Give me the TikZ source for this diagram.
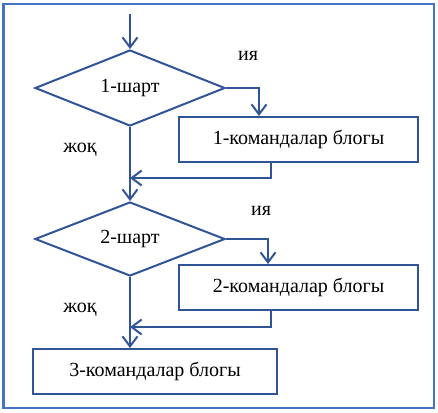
\documentclass[tikz,border=0pt]{standalone}
\usepackage{fontspec}
\setmainfont{Liberation Serif}
\usetikzlibrary{shapes.geometric,arrows.meta}
\definecolor{frameblue}{HTML}{4472C4}
\definecolor{lineblue}{HTML}{2F5597}
\tikzset{
  flow/.style={draw=lineblue,line width=2pt},
  blockbox/.style={flow,rectangle,minimum height=45pt,inner sep=0pt,font=\fontsize{20}{24}\selectfont},
  cond/.style={flow,diamond,minimum width=190pt,minimum height=76pt,aspect=2.5,inner sep=0pt,font=\fontsize{20}{24}\selectfont},
  arr/.style={flow,-{Straight Barb[length=10pt,width=15pt,line width=2pt]}},
  lab/.style={font=\fontsize{20}{24}\selectfont}
}
\begin{document}
\begin{tikzpicture}[x=1pt,y=-1pt]
\useasboundingbox (0,0) rectangle (438,412);
\draw[frameblue,line width=2.8pt] (3.5,4) rectangle (434,408);
\node[cond,minimum width=190pt,minimum height=76pt] (d1) at (130,88) {1-шарт};
\node[blockbox,minimum width=239pt] (b1) at (298.5,139.5) {1-командалар блогы};
\node[cond,minimum width=190pt,minimum height=74pt] (d2) at (130,239) {2-шарт};
\node[blockbox,minimum width=239pt] (b2) at (298.5,287.5) {2-командалар блогы};
\node[blockbox,minimum width=244pt] (b3) at (155,371.5) {3-командалар блогы};
\coordinate (start) at (130,14);
\coordinate (j1) at (130,178);
\coordinate (j2) at (130,327);
\node[lab] at (248,56) {ия};
\node[lab] at (261,211) {ия};
\node[lab] at (80,150) {жоқ};
\node[lab] at (80,310) {жоқ};
\draw[arr] (start) -- (d1.north);
\draw[arr] (d1.east) -| ([xshift=-39.5pt]b1.north);
\draw[arr] (b1.south -| 271,0) |- (j1);
\draw[arr] (d1.south) -- (d2.north);
\draw[arr] (d2.east) -| ([xshift=-30.5pt]b2.north);
\draw[arr] (b2.south -| 271,0) |- (j2);
\draw[arr] (d2.south) -- (b3.north -| d2.south);
\end{tikzpicture}
\end{document}
